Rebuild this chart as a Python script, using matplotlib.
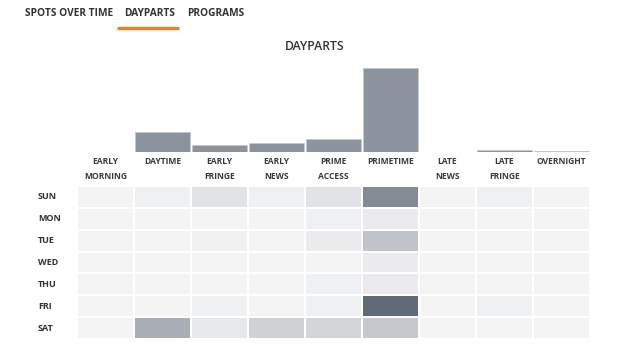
import matplotlib
matplotlib.use("Agg")
import matplotlib.pyplot as plt
from matplotlib.colors import LinearSegmentedColormap
import numpy as np

plt.rcParams['font.family'] = ['Open Sans', 'DejaVu Sans']

tabs = ["SPOTS OVER TIME", "DAYPARTS", "PROGRAMS"]
title = "DAYPARTS"
dayparts = ["EARLY\nMORNING", "DAYTIME", "EARLY\nFRINGE", "EARLY\nNEWS", "PRIME\nACCESS",
            "PRIMETIME", "LATE\nNEWS", "LATE\nFRINGE", "OVERNIGHT"]
days = ["SUN", "MON", "TUE", "WED", "THU", "FRI", "SAT"]
bar_totals = [0, 20, 7, 9, 13, 84, 0, 2, 1]
sun = [0, 1, 4, 1, 4, 24, 0, 1, 0]
mon = [0, 0, 0, 0, 1, 2, 0, 0, 0]
tue = [0, 0, 1, 0, 2, 11, 0, 0, 0]
wed = [0, 0, 0, 0, 0, 2, 0, 0, 0]
thu = [0, 0, 0, 0, 1, 2, 0, 0, 0]
fri = [0, 0, 1, 0, 1, 32, 0, 1, 0]
sat = [0, 16, 3, 8, 7, 10, 0, 0, 0]

W, H = 624, 350
fig = plt.figure(figsize=(W / 100, H / 100), dpi=100)
fig.patch.set_facecolor("white")

def fx(px):
    return px / W

def fy(py):
    return 1 - py / H

text_color = "#333333"

# Tabs
tab_x = [25, 124, 187]
for t, x in zip(tabs, tab_x):
    fig.text(fx(x), fy(13), t, fontsize=7.3, fontweight="bold", color=text_color,
             ha="left", va="center")
fig.add_artist(plt.Line2D([fx(117), fx(179)], [fy(27.5), fy(27.5)], color="#f47d20",
                          linewidth=2.4, solid_capstyle="butt"))

fig.text(fx(315), fy(46), title, fontsize=8.8, fontweight="semibold", color=text_color,
         ha="center", va="center")

left_px, right_px = 77, 590
n = len(dayparts)
col_w = (right_px - left_px) / n

# Bar chart
base_px, top_px = 152, 68
ax_bar = fig.add_axes([fx(left_px), fy(base_px), fx(right_px) - fx(left_px),
                       (base_px - top_px) / H])
ax_bar.bar(np.arange(n), bar_totals, width=0.975, color="#8a939e", edgecolor="#c3c8ce",
           linewidth=0.6)
ax_bar.set_xlim(-0.5, n - 0.5)
ax_bar.set_ylim(0, max(bar_totals))
ax_bar.axis("off")

# Heatmap
hm_top, hm_bot = 186, 339
ax_hm = fig.add_axes([fx(left_px), fy(hm_bot), fx(right_px) - fx(left_px),
                      (hm_bot - hm_top) / H])
data = np.array([sun, mon, tue, wed, thu, fri, sat], dtype=float)
cmap = LinearSegmentedColormap.from_list("gr", ["#f4f4f5", "#5f6977"])
ax_hm.pcolormesh(np.arange(n + 1) - 0.5, np.arange(len(days) + 1) - 0.5, data, cmap=cmap,
                 vmin=0, vmax=data.max(), edgecolors="white", linewidth=1.1)
ax_hm.set_xlim(-0.5, n - 0.5)
ax_hm.set_ylim(len(days) - 0.5, -0.5)
ax_hm.axis("off")

# Column labels
for i, lab in enumerate(dayparts):
    cx = left_px + col_w * (i + 0.5)
    for j, ln in enumerate(lab.split("\n")):
        fig.text(fx(cx), fy(161 + 16 * j), ln, fontsize=6.1, fontweight="bold",
                 color="#3a3a3a", ha="center", va="center")

# Row labels
row_h = (hm_bot - hm_top) / len(days)
for r, d in enumerate(days):
    cy = hm_top + row_h * (r + 0.5)
    fig.text(fx(38), fy(cy), d, fontsize=6.5, fontweight="bold", color=text_color,
             ha="left", va="center")

fig.savefig("out.png", dpi=100, facecolor="white")
